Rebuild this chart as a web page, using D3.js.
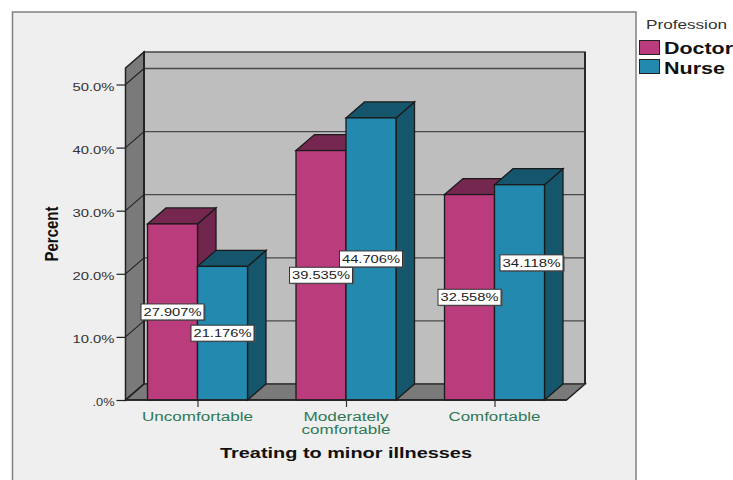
<!DOCTYPE html>
<html><head><meta charset="utf-8"><script src="https://cdn.jsdelivr.net/npm/d3@7"></script>
<style>html,body{margin:0;padding:0;background:#fff}svg{display:block}text{font-family:"Liberation Sans",Arial,sans-serif}</style></head><body>
<svg id="c" width="733" height="480"></svg>
<script>
const categories=[["Uncomfortable"],["Moderately","comfortable"],["Comfortable"]];
const seriesNames=["Doctor","Nurse"];
const doctorValues=[27.907,39.535,32.558];
const nurseValues=[21.176,44.706,34.118];
const yTicks=[0,10,20,30,40,50];
const svg=d3.select("#c");
const y=d3.scaleLinear().domain([0,50]).range([400,84.5]);
const x=d3.scalePoint().domain(categories.map(c=>c.join(" "))).range([197.5,494.5]);
const color={Doctor:{f:"#BA3C7C",t:"#76274F",s:"#70264D"},Nurse:{f:"#2489AE",t:"#15566C",s:"#15566C"}};
const DX=18.5,DY=-16,edge="#222",L=125.5,R=566.5,T=68,barW=50,bDX=18.5;
const poly=(pts,fill,stroke,w)=>svg.append("polygon").attr("points",pts.map(p=>p.join(",")).join(" ")).attr("fill",fill).attr("stroke",stroke||"none").attr("stroke-width",w||1);
svg.append("rect").attr("x",12.5).attr("y",12).attr("width",623.5).attr("height",480).attr("fill","#EFEFEF").attr("stroke","#808080").attr("stroke-width",1.5);
// walls
poly([[L+DX,T+DY],[R+DX,T+DY],[R+DX,400+DY],[L+DX,400+DY]],"#BEBEBE","#444",1.5);
poly([[L,T],[L+DX,T+DY],[L+DX,400+DY],[L,400]],"#7A7A7A","#222",1.5);
poly([[L,400],[L+DX,400+DY],[R+DX,400+DY],[R,400]],"#7A7A7A","#222",1.5);
// gridlines
yTicks.forEach(v=>{
 svg.append("line").attr("x1",L+DX).attr("x2",R+DX).attr("y1",y(v)+DY).attr("y2",y(v)+DY).attr("stroke","#484848").attr("stroke-width",1.3);
 svg.append("line").attr("x1",L).attr("x2",L+DX).attr("y1",y(v)).attr("y2",y(v)+DY).attr("stroke","#222").attr("stroke-width",1.1);
});
svg.append("line").attr("x1",L+DX).attr("x2",L+DX).attr("y1",T+DY).attr("y2",400+DY).attr("stroke","#222").attr("stroke-width",1.8);
svg.append("line").attr("x1",R+DX).attr("x2",R+DX).attr("y1",T+DY).attr("y2",400+DY).attr("stroke","#222").attr("stroke-width",1.8);
// bars, drawn back to front per group
const rows=categories.map((c,i)=>({key:c.join(" "),vals:[["Doctor",doctorValues[i],-barW],["Nurse",nurseValues[i],0]]}));
rows.forEach(r=>{
 r.vals.forEach(([n,v,o])=>{
  const x0=x(r.key)+o,x1=x0+barW,yt=y(v),c=color[n];
  poly([[x1,yt],[x1+bDX,yt+DY],[x1+bDX,400+DY],[x1,400]],c.s,"#1a1a1a",1.3);
  poly([[x0,yt],[x0+bDX,yt+DY],[x1+bDX,yt+DY],[x1,yt]],c.t,"#1a1a1a",1.3);
  svg.append("rect").attr("x",x0).attr("y",yt).attr("width",barW).attr("height",400-yt).attr("fill",c.f).attr("stroke","#1a1a1a").attr("stroke-width",1.3);
 });
});
svg.append("line").attr("x1",L).attr("x2",R).attr("y1",400).attr("y2",400).attr("stroke","#222").attr("stroke-width",1.6);
// y axis
const ya=svg.append("g").attr("transform",`translate(${L},0)`).call(d3.axisLeft(y).tickValues(yTicks).tickSize(9).tickSizeOuter(0).tickPadding(2).tickFormat(v=>v===0?".0%":v.toFixed(1)+"%"));
ya.select(".domain").remove();
ya.selectAll("line").attr("stroke","#222").attr("stroke-width",1.2);
ya.selectAll("text").attr("font-size",11).attr("fill","#333").attr("dy","0.5em").attr("textLength",d=>d===0?22:42).attr("lengthAdjust","spacingAndGlyphs").style("font-family",'"Liberation Sans"');
// x axis
const xa=svg.append("g").attr("transform","translate(0,400)").call(d3.axisBottom(x).tickSize(7).tickSizeOuter(0).tickFormat(""));
xa.select(".domain").remove();
xa.selectAll("line").attr("stroke","#333").attr("stroke-width",1.2);
const catWidths={"Uncomfortable":111,"Moderately":85,"comfortable":89,"Comfortable":92};
categories.forEach(c=>c.forEach((t,i)=>{
 svg.append("text").attr("x",x(c.join(" "))).attr("y",421+i*13).attr("text-anchor","middle").attr("font-size",12).attr("fill","#2F7856").attr("textLength",catWidths[t]).attr("lengthAdjust","spacingAndGlyphs").text(t);
}));
// value labels (the 34.118% box is nudged clear of its neighbour, as in the original)
rows.forEach((r,ri)=>r.vals.forEach(([n,v,o])=>{
 const moved=ri===2&&n==="Nurse";
 const cx=x(r.key)+o+barW/2+(moved?12:0),cy=(y(v)+400)/2+(moved?-29.5:0);
 svg.append("rect").attr("x",cx-29.5).attr("y",cy-7).attr("width",63).attr("height",16).attr("fill","#555").attr("opacity",.6);
 svg.append("rect").attr("x",cx-31.5).attr("y",cy-8).attr("width",63).attr("height",16).attr("fill","#fff").attr("stroke","#333").attr("stroke-width",1);
 svg.append("text").attr("x",cx).attr("y",cy+4).attr("text-anchor","middle").attr("font-size",11.5).attr("fill","#222").attr("textLength",58).attr("lengthAdjust","spacingAndGlyphs").text(v.toFixed(3)+"%");
}));
// titles
svg.append("text").attr("x",346).attr("y",458).attr("text-anchor","middle").attr("font-size",15).attr("font-weight","bold").attr("fill","#111").attr("textLength",252).attr("lengthAdjust","spacingAndGlyphs").text("Treating to minor illnesses");
svg.append("text").attr("transform","translate(57.5,234) rotate(-90)").attr("text-anchor","middle").attr("font-size",18).attr("font-weight","bold").attr("fill","#111").attr("textLength",55).attr("lengthAdjust","spacingAndGlyphs").text("Percent");
// legend
svg.append("text").attr("x",646).attr("y",29).attr("font-size",13).attr("fill","#333").attr("textLength",81).attr("lengthAdjust","spacingAndGlyphs").text("Profession");
seriesNames.forEach((n,i)=>{
 svg.append("rect").attr("x",639.5).attr("y",40.5+i*19).attr("width",20).attr("height",14).attr("fill",color[n].f).attr("stroke","#222").attr("stroke-width",1);
 svg.append("text").attr("x",664).attr("y",54+i*19.5).attr("font-size",16.5).attr("font-weight","bold").attr("fill","#111").attr("textLength",n==="Doctor"?69:61).attr("lengthAdjust","spacingAndGlyphs").text(n);
});
</script></body></html>
